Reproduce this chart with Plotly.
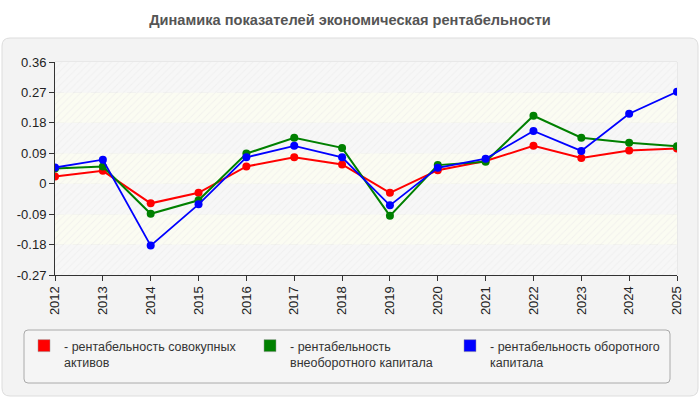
import plotly.graph_objects as go

years = [str(y) for y in range(2012, 2026)]
red_vals = [0.021, 0.038, -0.058, -0.027, 0.051, 0.078, 0.057, -0.027, 0.040, 0.067, 0.112, 0.076, 0.098, 0.104]
green_vals = [0.045, 0.051, -0.089, -0.049, 0.089, 0.136, 0.106, -0.095, 0.055, 0.065, 0.201, 0.136, 0.121, 0.111]
blue_vals = [0.048, 0.071, -0.183, -0.061, 0.078, 0.112, 0.078, -0.064, 0.047, 0.074, 0.156, 0.097, 0.207, 0.272]
names = ["рентабельность совокупных<br>активов",
         "рентабельность<br>внеоборотного капитала",
         "рентабельность оборотного<br>капитала"]
colors = ["#ff0000", "#008000", "#0000ff"]
y_ticks = [-0.27, -0.18, -0.09, 0, 0.09, 0.18, 0.27, 0.36]
y_tick_text = ["-0.27", "-0.18", "-0.09", "0", "0.09", "0.18", "0.27", "0.36"]

FONT = "Liberation Sans"
fig = go.Figure()

xs = list(range(len(years)))
# hatched background bands alternating between gridlines
for i in range(len(y_ticks) - 1):
    lo, hi = y_ticks[i], y_ticks[i + 1]
    grey_band = (len(y_ticks) - 2 - i) % 2 == 0
    fig.add_trace(go.Scatter(
        x=[0, len(years) - 1, len(years) - 1, 0, 0],
        y=[lo, lo, hi, hi, lo], mode="none", fill="toself",
        fillcolor="rgba(0,0,0,0)",
        fillpattern=dict(shape="/", fgcolor="#e9e9e9",
                         bgcolor="#f7f7f7" if grey_band else "#fbfcf2",
                         size=5, solidity=0.2),
        hoverinfo="skip", showlegend=False))

legend_ids = ["legend", "legend2", "legend3"]
for vals, nm, col, lg in zip([red_vals, green_vals, blue_vals], names, colors, legend_ids):
    fig.add_trace(go.Scatter(
        x=xs, y=vals, mode="lines+markers", name=nm,
        line=dict(color=col, width=2 if col != "#0000ff" else 1.8),
        marker=dict(color=col, size=8), showlegend=False))
    fig.add_trace(go.Bar(x=[None], y=[None], name="- " + nm, legend=lg,
                         marker=dict(color=col, line=dict(color="#999", width=0.5)),
                         showlegend=True))

L, R, T, B = 55, 23, 62, 125
pw, ph = 700 - L - R, 400 - T - B

def px(x):
    return (x - L) / pw

def py(y):
    return (400 - B - y) / ph

def rounded(xa, ya, xb, yb, r):
    x0, x1, y0, y1 = px(xa), px(xb), py(ya), py(yb)
    rx, ry = r / pw, r / ph
    return (f"M {x0+rx},{y0} L {x1-rx},{y0} Q {x1},{y0} {x1},{y0-ry} "
            f"L {x1},{y1+ry} Q {x1},{y1} {x1-rx},{y1} L {x0+rx},{y1} Q {x0},{y1} {x0},{y1+ry} "
            f"L {x0},{y0-ry} Q {x0},{y0} {x0+rx},{y0} Z")

fig.add_shape(type="path", path=rounded(2, 38, 698, 396, 8), xref="paper", yref="paper",
              fillcolor="#f3f3f3", line=dict(color="#dddddd", width=1), layer="below")
fig.add_shape(type="path", path=rounded(24, 330, 670, 383, 4), xref="paper", yref="paper",
              fillcolor="#f5f5f5", line=dict(color="#aaaaaa", width=1), layer="below")

def legend_cfg(xpx):
    return dict(orientation="v", xref="container", yref="container",
                x=xpx / 700, y=1 - 331 / 400, xanchor="left", yanchor="top",
                bgcolor="rgba(0,0,0,0)", borderwidth=0,
                font=dict(family=FONT, size=12.5, color="#333333"),
                itemwidth=30, valign="top")

fig.update_layout(
    width=700, height=400,
    margin=dict(l=L, r=R, t=T, b=B, autoexpand=False),
    paper_bgcolor="white", plot_bgcolor="#fbfcf2",
    title=dict(text="<b>Динамика показателей экономическая рентабельности</b>",
               x=0.5, xanchor="center", y=0.95, yanchor="middle",
               font=dict(family=FONT, size=14.6, color="#555555")),
    font=dict(family=FONT, size=12, color="#222222"),
    xaxis=dict(range=[0, len(years) - 1], tickmode="array", tickvals=xs, ticktext=years,
               tickangle=-90, showgrid=True, gridcolor="#dddddd", griddash="dash",
               showline=True, linecolor="#333333", ticks="outside", ticklen=5,
               tickcolor="#333333", zeroline=False, automargin=False,
               tickfont=dict(size=13, color="#222222")),
    yaxis=dict(range=[-0.27, 0.36], tickmode="array", tickvals=y_ticks, ticktext=y_tick_text,
               showgrid=True, gridcolor="#dddddd", griddash="dash",
               showline=True, linecolor="#333333", ticks="outside", ticklen=5,
               tickcolor="#333333", zeroline=False, automargin=False,
               tickfont=dict(size=13, color="#222222")),
    legend=legend_cfg(24),
    legend2=legend_cfg(250),
    legend3=legend_cfg(450),
    barmode="overlay",
)
fig.add_shape(type="rect", xref="paper", yref="paper", x0=0, x1=1, y0=0, y1=1,
              line=dict(color="#dddddd", width=1), layer="below")

fig.write_html("out.html")
